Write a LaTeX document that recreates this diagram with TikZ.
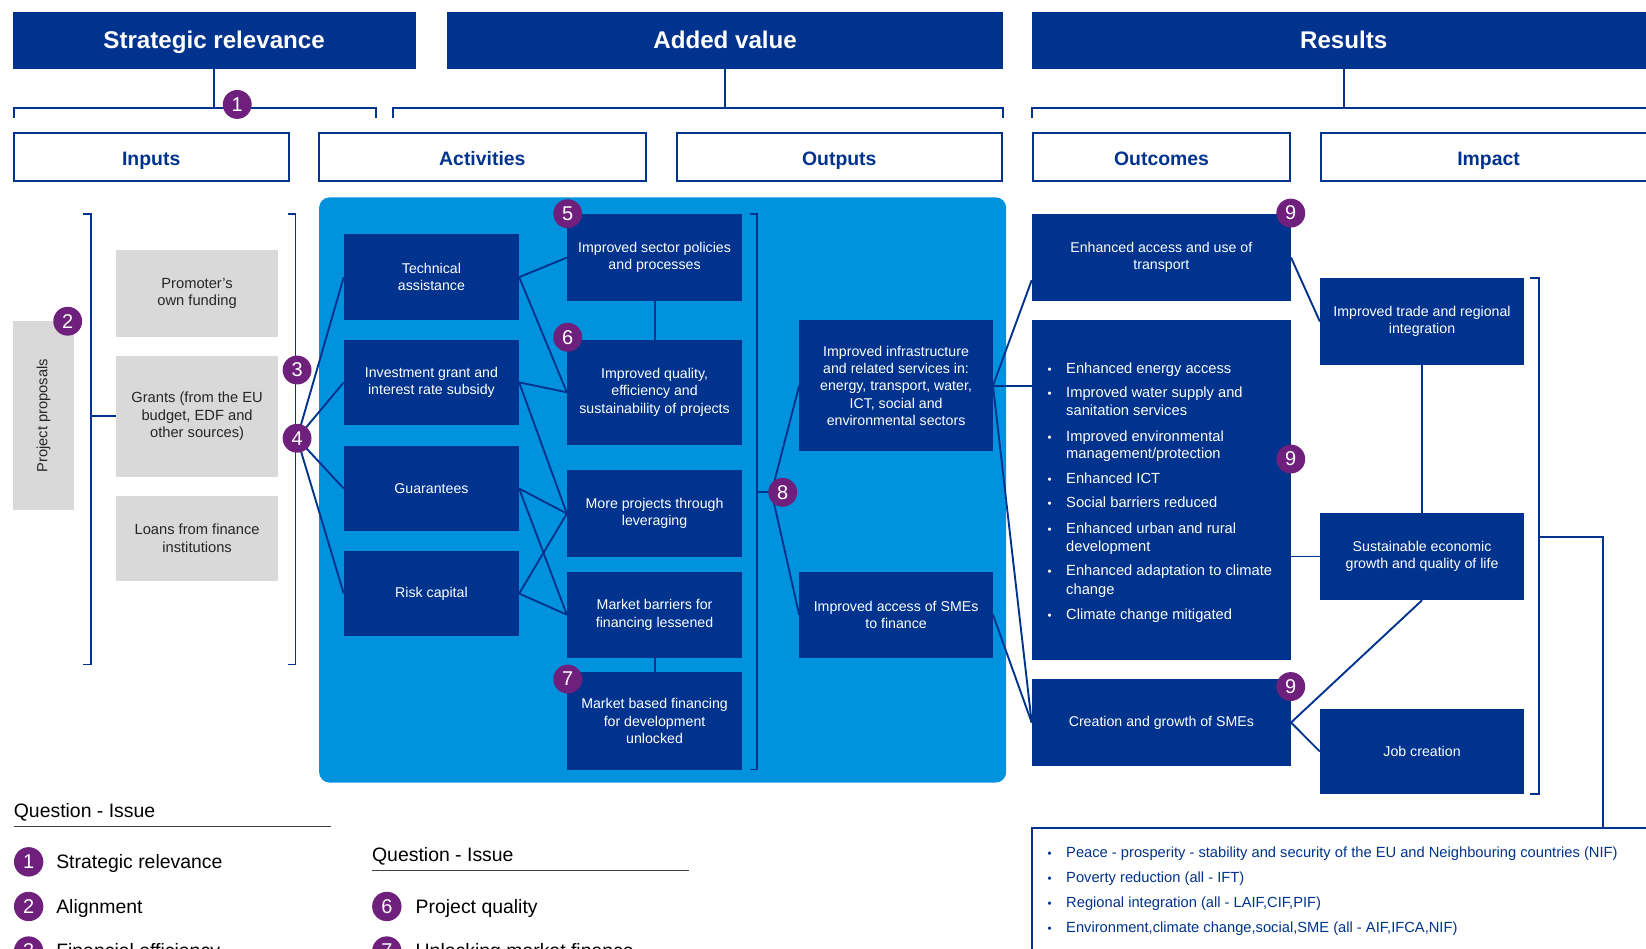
\documentclass[tikz,border=0pt]{standalone}
\usepackage{fontspec}
\setmainfont{Liberation Sans}
\usetikzlibrary{calc}
\definecolor{eublue}{RGB}{0,51,141}
\definecolor{panelblue}{RGB}{0,146,221}
\definecolor{badgepurple}{RGB}{110,32,124}
\definecolor{greybox}{RGB}{217,217,217}
\definecolor{legendline}{RGB}{64,64,64}
\newcommand\myfs[2]{\fontsize{#1}{#2}\selectfont}
\pgfdeclarelayer{bg}
\pgfdeclarelayer{lines}
\pgfsetlayers{bg,lines,main}
\begin{document}
\begin{tikzpicture}[x=1pt,y=-1pt,
 hdr/.style={fill=eublue,text=white,inner sep=0,text height=16.6pt,text depth=0pt,font=\myfs{23}{27}\bfseries},
 phase/.style={draw=eublue,line width=1.8pt,fill=white,text=eublue,inner sep=0,text height=16.3pt,text depth=0pt,font=\myfs{18.5}{22}\bfseries},
 dbox/.style={fill=eublue,text=white,align=center,inner sep=0,font=\myfs{13.5}{16.5}},
 gbox/.style={fill=greybox,text=black!85,align=center,inner sep=0,font=\myfs{14}{17}},
 badge/.style={circle,fill=badgepurple,text=white,minimum size=27.5pt,inner sep=0,font=\myfs{19}{19}},
 lbadge/.style={badge,minimum size=28pt},
 conn/.style={draw=eublue,line width=1.8pt},
 brk/.style={draw=eublue,line width=1.8pt},
 litem/.style={anchor=base west,inner sep=0,text=white,font=\myfs{14}{16}},
 lbul/.style={anchor=base,inner sep=0,text=white,font=\myfs{11}{12}},
 gitem/.style={anchor=base west,inner sep=0,text=eublue,font=\myfs{14}{16}},
 gbul/.style={anchor=base,inner sep=0,text=eublue,font=\myfs{11}{12}},
 legtext/.style={anchor=base west,inner sep=0,text=black,font=\myfs{18.5}{22}},
 legline/.style={draw=legendline,line width=1.3pt},
]
\useasboundingbox (0,0) rectangle (1568,904);
\begin{pgfonlayer}{bg}
\fill[white] (0,0) rectangle (1568,904);
\node[fill=panelblue,rounded corners=10pt,minimum width=654.5pt,minimum height=557.5pt,inner sep=0] (panel) at (631.25,466.75) {};
\end{pgfonlayer}

% headers
\node[hdr,minimum width=384pt,minimum height=54.5pt] (hsr) at (204,38.25) {Strategic relevance};
\node[hdr,minimum width=529.5pt,minimum height=54.5pt] (hav) at (690.75,38.25) {Added value};
\node[hdr,minimum width=594pt,minimum height=54.5pt] (hres) at (1280,38.25) {Results};

% phases
\node[phase,minimum width=262pt,minimum height=45pt] (pin) at (144,149.5) {Inputs};
\node[phase,minimum width=311pt,minimum height=45pt] (pact) at (459.5,149.5) {Activities};
\node[phase,minimum width=310pt,minimum height=45pt] (pout) at (799.5,149.5) {Outputs};
\node[phase,minimum width=245pt,minimum height=45pt] (poc) at (1106.5,149.5) {Outcomes};
\node[phase,minimum width=320pt,minimum height=45pt] (pim) at (1418,149.5) {Impact};

% bracket coordinates
\coordinate (br1) at (205,103);
\coordinate (br2) at (690.75,103);
\coordinate (br3) at (1280,103);
\draw[brk] (13,112) -- (13,103) -- (358,103) -- (358,112);
\draw[brk] (374,112) -- (374,103) -- (955.5,103) -- (955.5,112);
\draw[brk] (983,112) -- (983,103) -- (1580,103);
\draw[conn] (hsr.south) -- (hsr.south |- br1);
\draw[conn] (hav.south) -- (br2);
\draw[conn] (hres.south) -- (br3);

% inputs
\node[gbox,rotate=90,minimum width=180pt,minimum height=58pt] (pp) at (41.5,396) {Project proposals};
\node[gbox,minimum width=154.5pt,minimum height=83pt] (prom) at (187.75,279.5) {Promoter's\\own funding};
\node[gbox,minimum width=154.5pt,minimum height=115pt] (grants) at (187.75,396.5) {Grants (from the EU\\budget, EDF and\\other sources)};
\node[gbox,minimum width=154.5pt,minimum height=80.5pt] (loans) at (187.75,512.75) {Loans from finance\\institutions};
\coordinate (lbr) at (87,396.5);
\draw[brk] (79,204) -- (87,204) -- (87,633) -- (79,633);
\draw[brk] (274,204) -- (281.5,204) -- (281.5,633) -- (274,633);
\draw[conn] (grants.west) -- (lbr);

% activities
\node[dbox,minimum width=166.7pt,minimum height=82pt] (ta) at (411,264) {Technical\\assistance};
\node[dbox,minimum width=166.7pt,minimum height=80.5pt] (ig) at (411,364.25) {Investment grant and\\interest rate subsidy};
\node[dbox,minimum width=166.7pt,minimum height=80.2pt] (gu) at (411,465.4) {Guarantees};
\node[dbox,minimum width=166.7pt,minimum height=80.5pt] (rc) at (411,565.45) {Risk capital};

\node[dbox,minimum width=166.7pt,minimum height=82.8pt] (isp) at (623.55,245.4) {Improved sector policies\\and processes};
\node[dbox,minimum width=166.7pt,minimum height=99.6pt] (iq) at (623.55,373.7) {Improved quality,\\efficiency and\\sustainability of projects};
\node[dbox,minimum width=166.7pt,minimum height=82.1pt] (mp) at (623.55,489.25) {More projects through\\leveraging};
\node[dbox,minimum width=166.7pt,minimum height=82.1pt] (mb) at (623.55,585.55) {Market barriers for\\financing lessened};
\node[dbox,minimum width=166.7pt,minimum height=93pt] (mbf) at (623.55,686.9) {Market based financing\\for development\\unlocked};

\draw[brk] (714,204) -- (721.5,204) -- (721.5,733) -- (714,733);
\coordinate (ab) at (721.5,469);
\coordinate (j8) at (735,469);

% outputs
\node[dbox,minimum width=184.2pt,minimum height=124.7pt] (iis) at (853.6,367.35) {Improved infrastructure\\and related services in:\\energy, transport, water,\\ICT, social and\\environmental sectors};
\node[dbox,minimum width=184.2pt,minimum height=82.1pt] (smea) at (853.6,585.55) {Improved access of SMEs\\to finance};

% outcomes
\node[dbox,minimum width=246.6pt,minimum height=83.2pt] (etb) at (1106.3,245.2) {Enhanced access and use of\\transport};
\node[dbox,minimum width=246.6pt,minimum height=323.8pt] (big) at (1106.3,466.9) {};
\node[dbox,minimum width=246.6pt,minimum height=82.8pt] (smec) at (1106.3,688.3) {Creation and growth of SMEs};

\node[lbul] (ob1) at (1000,355.4) {•};
\node[litem] (o1) at (1015.5,355.4) {Enhanced energy access};
\node[lbul] (ob2) at (1000,379.1) {•};
\node[litem] (o2) at (1015.5,379.1) {Improved water supply and};
\node[litem] (o3) at (1015.5,395.5) {sanitation services};
\node[lbul] (ob3) at (1000,420.3) {•};
\node[litem] (o4) at (1015.5,420.3) {Improved environmental};
\node[litem] (o5) at (1015.5,436.5) {management/protection};
\node[lbul] (ob4) at (1000,460.5) {•};
\node[litem] (o6) at (1015.5,460.5) {Enhanced ICT};
\node[lbul] (ob5) at (1000,483.8) {•};
\node[litem] (o7) at (1015.5,483.8) {Social barriers reduced};
\node[lbul] (ob6) at (1000,507.9) {•};
\node[litem] (o8) at (1015.5,507.9) {Enhanced urban and rural};
\node[litem] (o9) at (1015.5,525.5) {development};
\node[lbul] (ob7) at (1000,548.7) {•};
\node[litem] (o10) at (1015.5,548.7) {Enhanced adaptation to climate};
\node[litem] (o11) at (1015.5,566.7) {change};
\node[lbul] (ob8) at (1000,589.9) {•};
\node[litem] (o12) at (1015.5,589.9) {Climate change mitigated};

% impact
\node[dbox,minimum width=194.3pt,minimum height=82.5pt] (trade) at (1354.65,306.25) {Improved trade and regional\\integration};
\node[dbox,minimum width=194.3pt,minimum height=82.9pt] (seg) at (1354.65,530.15) {Sustainable economic\\growth and quality of life};
\node[dbox,minimum width=194.3pt,minimum height=80.6pt] (job) at (1354.65,715.9) {Job creation};

\draw[brk] (1457.5,265) -- (1465.8,265) -- (1465.8,756.2) -- (1457.5,756.2);
\coordinate (ib) at (1465.8,511.8);
\coordinate (ic) at (1527.4,511.8);

% goals box
\node[draw=eublue,line width=1.8pt,fill=white,minimum width=607pt,minimum height=171pt,inner sep=0] (goals) at (1286.5,874.5) {};
\node[gbul] (gb1) at (1000,817.2) {•};
\node[gitem] (g1) at (1015.5,817.2) {Peace - prosperity - stability and security of the EU and Neighbouring countries (NIF)};
\node[gbul] (gb2) at (1000,840.9) {•};
\node[gitem] (g2) at (1015.5,840.9) {Poverty reduction (all - IFT)};
\node[gbul] (gb3) at (1000,864.6) {•};
\node[gitem] (g3) at (1015.5,864.6) {Regional integration (all - LAIF,CIF,PIF)};
\node[gbul] (gb4) at (1000,888.4) {•};
\node[gitem] (g4) at (1015.5,888.4) {Environment,climate change,social,SME (all - AIF,IFCA,NIF)};

% connectors
\begin{pgfonlayer}{lines}
\draw[conn] (283,417.5) -- (ta.west);
\draw[conn] (283,417.5) -- (ig.west);
\draw[conn] (283,417.5) -- (gu.west);
\draw[conn] (283,417.5) -- (rc.west);
\draw[conn] (ta.east) -- (isp.west);
\draw[conn] (ta.east) -- (iq.west);
\draw[conn] (ig.east) -- (iq.west);
\draw[conn] (ig.east) -- (mp.west);
\draw[conn] (gu.east) -- (mp.west);
\draw[conn] (gu.east) -- (mb.west);
\draw[conn] (rc.east) -- (mp.west);
\draw[conn] (rc.east) -- (mb.west);
\draw[conn] (isp.south) -- (iq.north);
\draw[conn] (mb.south) -- (mbf.north);
\draw[conn] (ab) -- (j8);
\draw[conn] (j8) -- (iis.west);
\draw[conn] (j8) -- (smea.west);
\draw[conn] (iis.east) -- ($(etb.south west)!0.24!(etb.north west)$);
\draw[conn] (iis.east) -- (iis.east -| big.west);
\draw[conn] (iis.east) -- (smec.west);
\draw[conn] (smea.east) -- (smec.west);
\draw[conn] (etb.east) -- (trade.west);
\draw[conn] (trade.south) -- (seg.north);
\draw[conn] (seg.west) -- (seg.west -| big.east);
\draw[conn] (smec.east) -- (seg.south);
\draw[conn] (smec.east) -- (job.west);
\draw[conn] (ib) -- (ic) -- (ic |- goals.north);
\end{pgfonlayer}

% badges
\node[badge] (n1) at (226,99.5) {1};
\node[badge] (n2) at (64.5,306) {2};
\node[badge] (n3) at (283,352.5) {3};
\node[badge] (n4) at (283,417.5) {4};
\node[badge] (n5) at (540.8,203.6) {5};
\node[badge] (n6) at (540.8,321.3) {6};
\node[badge] (n7) at (540.8,646.9) {7};
\node[badge] (n8) at (745.6,469) {8};
\node[badge] (n9a) at (1229.6,203) {9};
\node[badge] (n9b) at (1229.6,437.3) {9};
\node[badge] (n9c) at (1229.6,654) {9};

% legend
\node[legtext] (lq1) at (13,778.5) {Question - Issue};
\coordinate (lu1a) at (13,787.5);
\coordinate (lu1b) at (315,787.5);
\draw[legline] (lu1a) -- (lu1b);
\node[lbadge] (lb1) at (27.3,821) {1};
\node[legtext] (lt1) at (53.4,827.5) {Strategic relevance};
\node[lbadge] (lb2) at (27.3,863.5) {2};
\node[legtext] (lt2) at (53.4,870) {Alignment};
\node[lbadge] (lb3) at (27.3,906) {3};
\node[legtext] (lt3) at (53.4,912.5) {Financial efficiency};

\node[legtext] (lq2) at (354.3,820.2) {Question - Issue};
\coordinate (lu2a) at (354.3,829.4);
\coordinate (lu2b) at (656,829.4);
\draw[legline] (lu2a) -- (lu2b);
\node[lbadge] (lb6) at (368.5,863.5) {6};
\node[legtext] (lt6) at (395.8,870) {Project quality};
\node[lbadge] (lb7) at (368.5,906) {7};
\node[legtext] (lt7) at (395.8,912.5) {Unlocking market finance};
\end{tikzpicture}
\end{document}
